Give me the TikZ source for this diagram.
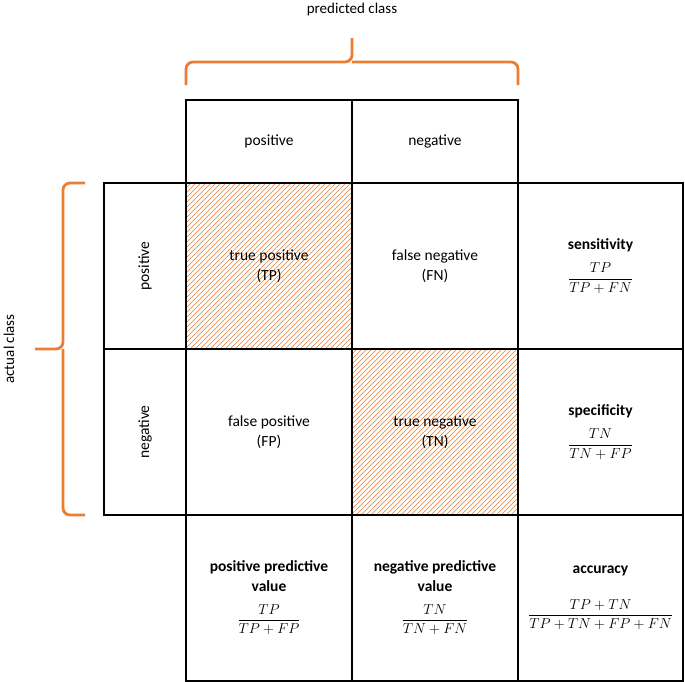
\documentclass[tikz,border=0pt]{standalone}
\usepackage{fontspec}
\usepackage{amsmath}
\setmainfont{Carlito}
\definecolor{brorange}{RGB}{237,125,49}
\begin{document}
\begin{tikzpicture}[x=1pt,y=1pt,
  cell/.style={draw=black,line width=1.2pt,minimum width=166pt,minimum height=166pt,inner sep=0pt,align=center,font=\fontsize{15.5}{20}\selectfont},
  hline/.style={draw=brorange,line width=0.6pt},
  brc/.style={draw=brorange,line width=2.8pt,rounded corners=7pt},
  lbl/.style={font=\fontsize{15}{18}\selectfont}]
\useasboundingbox (0,0) rectangle (685,-681);
% hatching
\foreach \cx/\cy in {186/-349,352/-515}{
  \begin{scope}
    \clip (\cx,\cy) rectangle ++(166,166);
    \foreach \i in {-166,-161,...,166}{
      \draw[hline] (\cx+\i,\cy) -- ++(166,166);
    }
  \end{scope}
}
% header
\node[cell,minimum height=83pt] (hp) at (269,-141.5) {positive};
\node[cell,minimum height=83pt] (hn) at (435,-141.5) {negative};
% row labels
\node[cell,rotate=90,minimum width=166pt,minimum height=82pt] (rp) at (145,-266) {positive};
\node[cell,rotate=90,minimum width=166pt,minimum height=82pt] (rn) at (145,-432) {negative};
% matrix
\node[cell] (tp) at (269,-266) {true positive\\(TP)};
\node[cell] (fn) at (435,-266) {false negative\\(FN)};
\node[cell,minimum width=165pt] (sens) at (600.5,-266) {\textbf{sensitivity}\\[10pt]$\dfrac{TP}{TP+FN}$};
\node[cell] (fp) at (269,-432) {false positive\\(FP)};
\node[cell] (tn) at (435,-432) {true negative\\(TN)};
\node[cell,minimum width=165pt] (spec) at (600.5,-432) {\textbf{specificity}\\[10pt]$\dfrac{TN}{TN+FP}$};
\node[cell] (ppv) at (269,-598) {\textbf{positive predictive}\\\textbf{value}\\[12pt]$\dfrac{TP}{TP+FP}$};
\node[cell] (npv) at (435,-598) {\textbf{negative predictive}\\\textbf{value}\\[12pt]$\dfrac{TN}{TN+FN}$};
\node[cell,minimum width=165pt] (acc) at (600.5,-598) {\textbf{accuracy}\\[22pt]$\dfrac{TP+TN}{TP+TN+FP+FN}$};
% braces
\coordinate (tb1) at (186,-85);
\coordinate (tb2) at (518,-85);
\coordinate (tbm) at (352,-62);
\coordinate (tbt) at (352,-38);
\draw[brc] (tb1) |- (tbm) -- (tbt);
\draw[brc] (tb2) |- (tbm);
\coordinate (lb1) at (85,-183);
\coordinate (lb2) at (85,-515);
\coordinate (lbm) at (63,-349);
\coordinate (lbt) at (35,-349);
\draw[brc] (lb1) -| (lbm) -- (lbt);
\draw[brc] (lb2) -| (lbm);
\node[lbl] (pc) at (352,-9) {predicted class};
\node[lbl,rotate=90] (ac) at (9,-349) {actual class};
\end{tikzpicture}
\end{document}
